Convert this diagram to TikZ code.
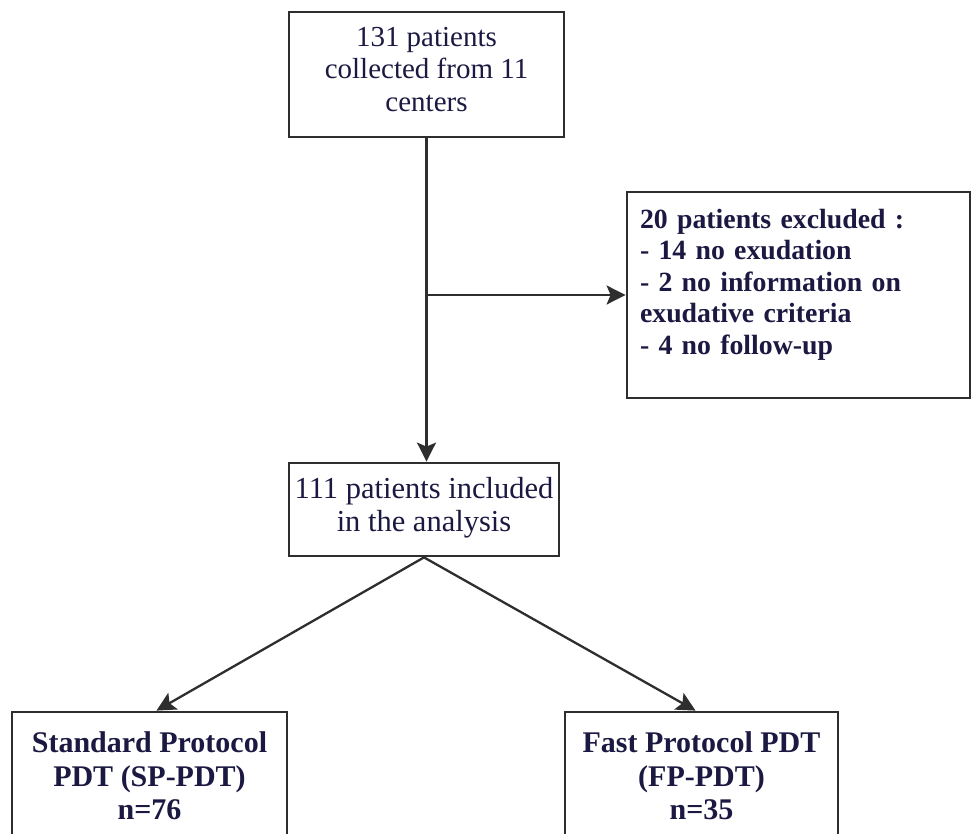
\documentclass[tikz,border=0pt]{standalone}
\usepackage{fontspec}
\setmainfont{Liberation Serif}
\usetikzlibrary{arrows.meta, calc}
\definecolor{inknavy}{HTML}{1B1941}
\definecolor{lineGray}{HTML}{2E2E2E}

\begin{document}
\begin{tikzpicture}[x=1pt, y=-1pt, >={Stealth[length=19pt, width=19pt, inset=4pt]},
  box/.style={draw=lineGray, line width=2.8pt, fill=white, text=inknavy, align=center, inner sep=0pt},
  flow/.style={draw=lineGray, line width=2.3pt}]
  \useasboundingbox (0,0) rectangle (972,834);
  \node[box, minimum width=275pt, minimum height=125pt, font=\fontsize{29}{32.5}\selectfont] (collected) at (426.5,74.5) {131 patients\\collected from 11\\centers\\[-32pt]\strut};
  \node[box, minimum width=343pt, minimum height=206pt, text width=317pt, inner xsep=13pt, align=left, font=\fontsize{27.8}{31.5}\selectfont\bfseries] (excluded) at (798.5,295) {20 patients excluded :\\- 14 no exudation\\- 2 no information on\\exudative criteria\\- 4 no follow-up\\[-14.5pt]\strut};
  \node[box, minimum width=270pt, minimum height=93pt, font=\fontsize{30.5}{33}\selectfont] (included) at (424,509.5) {111 patients included\\in the analysis\\[-33pt]\strut};
  \node[box, minimum width=275pt, minimum height=128pt, font=\fontsize{30}{33.5}\selectfont\bfseries] (standard) at (149.5,776) {Standard Protocol\\PDT (SP-PDT)\\n=76};
  \node[box, minimum width=273pt, minimum height=128pt, font=\fontsize{30}{33.5}\selectfont\bfseries] (fast) at (701.5,776) {Fast Protocol PDT\\(FP-PDT)\\n=35};
  % connectors
  \draw[flow, ->] (collected.south) -- (collected.south |- included.north);
  \coordinate (branch) at (collected.south |- excluded.west);
  \draw[flow, ->] (branch) -- (excluded.west);
  \draw[flow, ->] (included.south) -- ($(standard.north)+(7,0)$);
  \draw[flow, ->] (included.south) -- ($(fast.north)+(-6,0)$);
\end{tikzpicture}
\end{document}
